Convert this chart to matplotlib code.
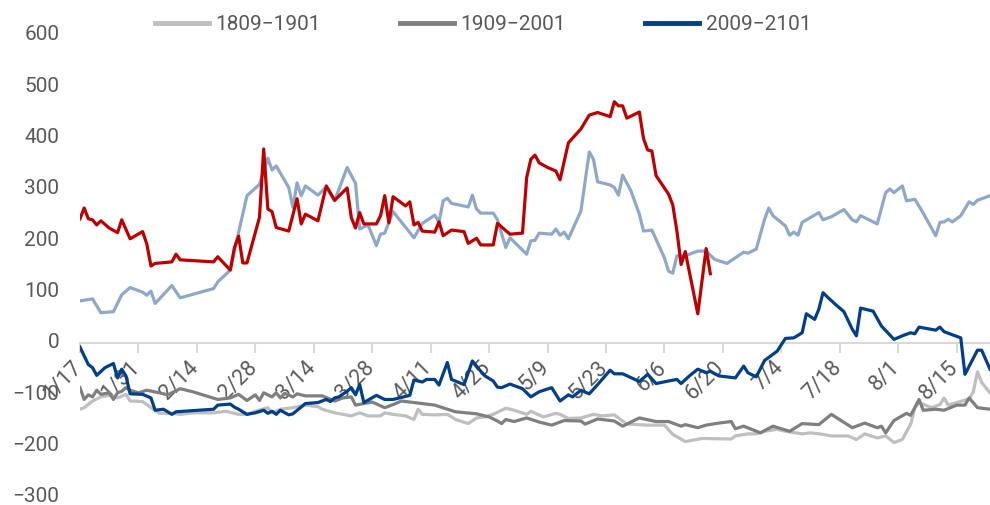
import matplotlib
matplotlib.use("Agg")
import matplotlib.pyplot as plt
from matplotlib.transforms import ScaledTranslation

plt.rcParams['font.family'] = ['Roboto', 'DejaVu Sans']

# x positions are days counted from 1/17
tick_days = [0, 14, 28, 42, 56, 70, 84, 98, 112, 126, 140, 154, 168, 182, 196, 210]
tick_labels = ["1/17", "1/31", "2/14", "2/28", "3/14", "3/28", "4/11", "4/25",
               "5/9", "5/23", "6/6", "6/20", "7/4", "7/18", "8/1", "8/15"]

# 1809-1901 (light gray)
lg_days = [0, 1, 3, 5, 7, 9, 11, 12, 15, 17, 19, 22, 24, 27, 32, 35, 38, 40, 42, 45, 46, 48, 51,
           54, 57, 58, 61, 63, 65, 67, 69, 72, 73, 75, 78, 80, 81, 82, 85, 88, 90, 93, 95, 97, 99,
           100, 102, 104, 107, 108, 111, 114, 115, 117, 120, 123, 125, 128, 131, 136, 140, 142,
           145, 149, 156, 157, 160, 162, 164, 167, 169, 173, 175, 178, 180, 184, 186, 188, 191,
           193, 195, 197, 199, 200, 201, 204, 206, 207, 208, 210, 213, 214, 215, 216, 218]
lg_vals = [-129, -126, -113, -105, -102, -107, -100, -113, -114, -126, -137, -137, -139, -136, -136,
           -133, -139, -139, -133, -126, -136, -129, -126, -121, -124, -129, -136, -139, -142, -136,
           -142, -142, -136, -139, -142, -149, -129, -139, -140, -139, -149, -157, -146, -144, -139,
           -135, -127, -131, -139, -133, -144, -137, -139, -147, -146, -139, -142, -140, -158, -160,
           -160, -178, -192, -186, -187, -181, -177, -177, -172, -168, -172, -177, -175, -178, -181,
           -181, -188, -177, -185, -181, -194, -188, -158, -126, -116, -126, -120, -107, -121, -116,
           -109, -95, -56, -77, -97]

# 1909-2001 (dark gray)
dg_days = [0, 1, 2, 3, 4, 5, 7, 8, 9, 10, 11, 12, 14, 16, 19, 21, 22, 24, 27, 33, 36, 38, 40, 42,
           43, 44, 46, 47, 48, 49, 51, 52, 54, 58, 61, 63, 65, 66, 68, 70, 73, 75, 77, 80, 82, 85,
           88, 90, 95, 98, 100, 101, 102, 104, 107, 110, 113, 116, 120, 121, 124, 128, 130, 134,
           138, 141, 144, 145, 148, 150, 153, 156, 157, 159, 163, 166, 170, 173, 177, 180, 185,
           188, 191, 192, 193, 195, 198, 199, 201, 202, 205, 207, 210, 212, 213, 215, 218]
dg_vals = [-87, -110, -101, -105, -92, -100, -97, -110, -97, -94, -87, -92, -97, -92, -97, -101,
           -97, -89, -95, -110, -107, -100, -112, -101, -112, -97, -105, -97, -107, -98, -105, -99,
           -103, -103, -113, -107, -105, -121, -118, -115, -126, -120, -113, -116, -118, -121, -129,
           -134, -138, -144, -152, -157, -149, -153, -146, -154, -160, -151, -152, -158, -148, -152,
           -162, -146, -153, -153, -162, -159, -165, -160, -156, -153, -167, -162, -175, -162, -172,
           -157, -159, -139, -165, -156, -165, -162, -175, -151, -137, -141, -110, -131, -129, -131,
           -121, -121, -107, -126, -129]

# 2009-2101 (dark blue)
db_days = [0, 2, 3, 4, 6, 8, 9, 10, 11, 12, 15, 17, 18, 20, 22, 23, 32, 33, 36, 37, 38, 40, 42,
           44, 45, 46, 47, 48, 50, 51, 54, 57, 59, 60, 61, 62, 64, 65, 66, 67, 68, 71, 73, 75, 79,
           80, 82, 83, 85, 86, 88, 89, 92, 94, 96, 97, 99, 100, 101, 103, 106, 108, 110, 113, 115,
           117, 118, 120, 122, 124, 127, 128, 130, 134, 136, 138, 141, 143, 144, 146, 148, 150,
           151, 153, 157, 159, 160, 162, 164, 167, 169, 171, 173, 174, 176, 177, 178, 179, 181,
           183, 185, 186, 187, 190, 192, 195, 197, 199, 200, 201, 205, 206, 207, 208, 211, 212,
           215, 216, 218]
db_vals = [-8, -42, -48, -63, -48, -40, -68, -51, -64, -99, -100, -107, -131, -129, -139, -134,
           -129, -121, -119, -125, -129, -139, -136, -131, -137, -133, -139, -131, -140, -138, -118,
           -116, -110, -114, -107, -105, -94, -87, -101, -81, -116, -102, -110, -110, -102, -72,
           -76, -71, -71, -82, -38, -71, -81, -35, -55, -64, -74, -86, -87, -80, -89, -105, -95,
           -87, -113, -101, -105, -92, -99, -81, -53, -60, -60, -75, -61, -79, -74, -71, -79, -64,
           -51, -58, -55, -64, -68, -45, -58, -66, -34, -16, 9, 10, 20, 57, 46, 66, 98, 90, 75, 61,
           27, 14, 68, 62, 33, 7, 14, 20, 18, 31, 25, 31, 22, 19, 10, -61, -14, -14, -51]

# unlabeled light blue series
lb_days = [0, 3, 5, 8, 10, 12, 15, 16, 17, 18, 22, 24, 32, 33, 36, 37, 40, 43, 45, 46, 47, 50, 51,
           52, 53, 54, 57, 59, 61, 64, 66, 67, 69, 71, 72, 73, 75, 80, 82, 85, 86, 87, 88, 89, 93,
           94, 95, 96, 99, 100, 102, 103, 107, 108, 109, 110, 113, 114, 115, 116, 117, 120, 122,
           123, 124, 127, 128, 129, 130, 132, 134, 135, 137, 140, 141, 142, 143, 145, 148, 150,
           152, 155, 157, 159, 160, 162, 164, 165, 166, 169, 170, 171, 172, 173, 177, 178, 180,
           183, 185, 186, 187, 191, 193, 194, 195, 197, 198, 200, 202, 205, 206, 207, 208, 209,
           211, 213, 214, 215, 218]
lb_vals = [82, 86, 59, 61, 94, 108, 99, 93, 101, 77, 112, 88, 106, 119, 142, 180, 287, 309, 360,
           337, 345, 303, 264, 312, 287, 306, 288, 304, 277, 342, 311, 222, 230, 190, 212, 214, 256,
           205, 233, 249, 235, 277, 282, 272, 265, 288, 261, 253, 253, 240, 186, 205, 173, 199, 200,
           214, 212, 222, 210, 216, 203, 257, 372, 358, 314, 308, 303, 288, 327, 296, 251, 218, 220,
           166, 140, 136, 170, 170, 179, 179, 163, 155, 166, 177, 175, 183, 241, 263, 248, 228, 210,
           216, 210, 235, 254, 240, 246, 260, 240, 236, 248, 232, 293, 300, 293, 306, 277, 280, 253,
           209, 235, 236, 241, 236, 248, 275, 270, 278, 287]

# unlabeled red series
rd_days = [0, 1, 2, 3, 4, 5, 7, 9, 10, 12, 15, 16, 17, 18, 22, 23, 24, 32, 33, 36, 37, 38, 39, 40,
           43, 44, 45, 46, 47, 50, 52, 53, 54, 57, 59, 61, 64, 65, 66, 67, 68, 71, 72, 73, 74, 75,
           78, 79, 80, 81, 82, 85, 86, 87, 89, 92, 93, 95, 96, 99, 100, 103, 106, 107, 108, 109,
           110, 112, 114, 115, 117, 120, 122, 124, 127, 128, 129, 130, 131, 134, 135, 136, 137,
           138, 141, 142, 143, 144, 145, 148, 150, 151]
rd_vals = [242, 263, 242, 240, 230, 238, 224, 215, 240, 203, 217, 193, 150, 155, 158, 173, 162,
           158, 168, 142, 186, 208, 156, 156, 245, 378, 261, 256, 225, 218, 281, 232, 251, 238, 306,
           278, 302, 244, 224, 254, 232, 232, 248, 287, 234, 285, 267, 275, 230, 235, 218, 216, 236,
           209, 220, 217, 194, 204, 191, 191, 233, 212, 214, 322, 358, 366, 351, 342, 335, 318, 390,
           417, 444, 449, 441, 470, 462, 462, 438, 450, 398, 376, 374, 326, 290, 269, 218, 153, 178,
           57, 184, 135]

fig = plt.figure(figsize=(9.9, 5.05), dpi=100)
ax = fig.add_axes([80 / 990, 1 - 497 / 505, 1 - 80 / 990, (497 - 35) / 505])

lw = 2.3
ax.plot(lg_days, lg_vals, color='#BFBFBF', lw=lw, label='1809\u22121901')
ax.plot(dg_days, dg_vals, color='#7F7F7F', lw=lw, label='1909\u22122001')
ax.plot(db_days, db_vals, color='#003F8A', lw=lw, label='2009\u22122101')
ax.plot(lb_days, lb_vals, color='#8EA8CC', lw=lw, label='_nolegend_')
ax.plot(rd_days, rd_vals, color='#C00000', lw=lw, label='_nolegend_')

ax.set_xlim(0, 218)
ax.set_ylim(-300, 600)
ax.set_yticks(range(-300, 601, 100))
ax.set_xticks(tick_days)
ax.set_xticklabels(tick_labels)

for s in ['top', 'right', 'left']:
    ax.spines[s].set_visible(False)
ax.spines['bottom'].set_position(('data', 0))
ax.spines['bottom'].set_color('#D9D9D9')
ax.spines['bottom'].set_linewidth(1.5)
ax.spines['bottom'].set_zorder(0.5)

ax.tick_params(axis='y', length=0, labelsize=15, labelcolor='#595959', pad=15)
ax.tick_params(axis='x', length=7, width=1.5, color='#D9D9D9', labelsize=15.5,
               labelcolor='#595959', pad=1, labelrotation=45)
offset = ScaledTranslation(6 / 100, -3 / 100, fig.dpi_scale_trans)
for t in ax.get_xticklabels():
    t.set_horizontalalignment('right')
    t.set_verticalalignment('top')
    t.set_rotation_mode('default')
    t.set_transform(t.get_transform() + offset)
for t in ax.get_yticklabels():
    t.set_verticalalignment('center')

leg = fig.legend(loc='center', bbox_to_anchor=(0.488, 1 - 25 / 505), ncol=3, frameon=False,
                 fontsize=15, handlelength=2.6, handletextpad=0.3, columnspacing=3.8,
                 labelcolor='#595959')
for line in leg.get_lines():
    line.set_linewidth(3.5)

fig.savefig('out.png', dpi=100)
